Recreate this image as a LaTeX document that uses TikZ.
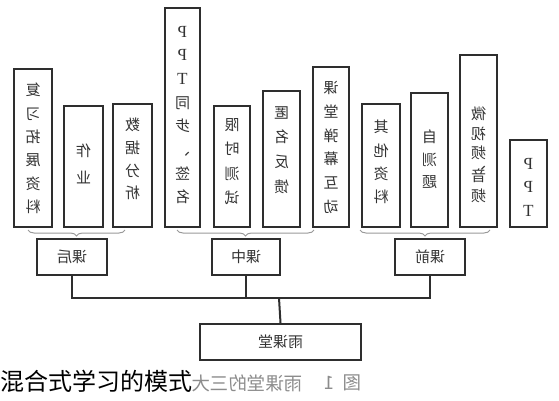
\documentclass[tikz,border=0pt]{standalone}
\usepackage{fontspec}
\newfontfamily\cjk{Noto Sans CJK SC}
\newfontfamily\lat{Liberation Serif}
\usetikzlibrary{decorations.pathreplacing}
\newcommand\mr[1]{\reflectbox{#1}}
\newcommand\lt[1]{\reflectbox{\lat\fontsize{17}{17}\selectfont #1}}
\definecolor{boxc}{gray}{0.18}
\definecolor{textc}{gray}{0.2}
\definecolor{capc}{gray}{0.55}
\definecolor{bracec}{gray}{0.6}
\begin{document}
\begin{tikzpicture}[x=1pt,y=-1pt,
  barbox/.style={draw=boxc, line width=2.2pt, fill=white, inner sep=0pt, anchor=south},
  grpbox/.style={draw=boxc, line width=2.2pt, fill=white, inner sep=0pt, minimum height=36pt,
                 font=\fontsize{15}{15}\selectfont\cjk, text=textc},
  coltext/.style={font=\fontsize{15}{#1}\selectfont\cjk, align=center, text=textc, inner sep=0pt},
  link/.style={draw=boxc, line width=2pt},
  bracel/.style={draw=bracec, line width=1pt, decorate, decoration={brace, mirror, amplitude=6pt}},
  capg/.style={font=\fontsize{18.5}{18.5}\selectfont\cjk, text=capc, inner sep=0pt}]
\useasboundingbox (0,0) rectangle (559,400);

% column boxes
\node[barbox, minimum width=38pt, minimum height=158pt] (b1) at (33,228) {};
\node[barbox, minimum width=39pt, minimum height=121pt] (b2) at (83.5,228) {};
\node[barbox, minimum width=39pt, minimum height=123pt] (b3) at (132.5,228) {};
\node[barbox, minimum width=35pt, minimum height=219pt] (b4) at (182.5,228) {};
\node[barbox, minimum width=36pt, minimum height=121pt] (b5) at (232,228) {};
\node[barbox, minimum width=37pt, minimum height=136pt] (b6) at (281.5,228) {};
\node[barbox, minimum width=36pt, minimum height=160pt] (b7) at (331,228) {};
\node[barbox, minimum width=38pt, minimum height=123pt] (b8) at (381,228) {};
\node[barbox, minimum width=37pt, minimum height=134pt] (b9) at (429.5,228) {};
\node[barbox, minimum width=37pt, minimum height=172pt] (b10) at (478.5,228) {};
\node[barbox, minimum width=37pt, minimum height=87pt] (b11) at (528.5,228) {};

% column texts (mirrored)
\node[coltext=23.4] (t1) at (33,148.5) {\mr{复}\\\mr{习}\\\mr{拓}\\\mr{展}\\\mr{资}\\\mr{料}};
\node[coltext=27] (t2) at (83.5,163.5) {\mr{作}\\\mr{业}};
\node[coltext=22.7] (t3) at (132.5,159) {\mr{数}\\\mr{据}\\\mr{分}\\\mr{析}};
\node[coltext=23.7] (t4) at (182.5,115) {\lt{P}\\\lt{P}\\\lt{T}\\\mr{同}\\\mr{步}\\\mr{、}\\\mr{签}\\\mr{名}};
\node[coltext=24.3] (t5) at (232,161.5) {\mr{限}\\\mr{时}\\\mr{测}\\\mr{试}};
\node[coltext=24.7] (t6) at (281.5,150) {\mr{匿}\\\mr{名}\\\mr{反}\\\mr{馈}};
\node[coltext=23.8] (t7) at (331,147.5) {\mr{课}\\\mr{堂}\\\mr{弹}\\\mr{幕}\\\mr{互}\\\mr{动}};
\node[coltext=23.3] (t8) at (381,162) {\mr{其}\\\mr{他}\\\mr{资}\\\mr{料}};
\node[coltext=22.5] (t9) at (429.5,159.5) {\mr{自}\\\mr{测}\\\mr{题}};
\node[coltext=19.5] (t10) at (478.5,155) {\mr{微}\\\mr{视}\\\mr{频}\\[-9pt]\mr{、}\\[-7pt]\mr{音}\\\mr{频}};
\node[coltext=23.5] (t11) at (528.5,187) {\lt{P}\\\lt{P}\\\lt{T}};

% braces
\coordinate (br1a) at (28,230); \coordinate (br1b) at (125,230);
\coordinate (br2a) at (177,230); \coordinate (br2b) at (314,230);
\coordinate (br3a) at (360,230); \coordinate (br3b) at (490,230);
\draw[bracel] (br1a) -- (br1b);
\draw[bracel] (br2a) -- (br2b);
\draw[bracel] (br3a) -- (br3b);

% group boxes
\node[grpbox, minimum width=70pt] (kh) at (72,257) {\mr{课后}};
\node[grpbox, minimum width=68pt] (kz) at (246,257) {\mr{课中}};
\node[grpbox, minimum width=70pt] (kq) at (430,257) {\mr{课前}};

% root
\node[grpbox, minimum width=161pt] (ykt) at (280.5,342) {\mr{雨课堂}};

% connectors
\coordinate (jn) at (279,298);
\draw[link] (kh.south) |- (jn) -| (kq.south);
\draw[link] (kz.south) -- (kz.south |- jn);
\draw[link] (jn) -- (ykt.north);

% captions
\node[capg, anchor=east] (cap1) at (362,383) {\mr{图\hspace{9pt}1}};
\node[capg, anchor=east] (cap2) at (303,383) {\mr{雨课堂的三大}};
\node[font=\fontsize{24}{24}\selectfont\cjk, anchor=west, inner sep=0pt] (cap) at (0,381) {混合式学习的模式};
\end{tikzpicture}
\end{document}
